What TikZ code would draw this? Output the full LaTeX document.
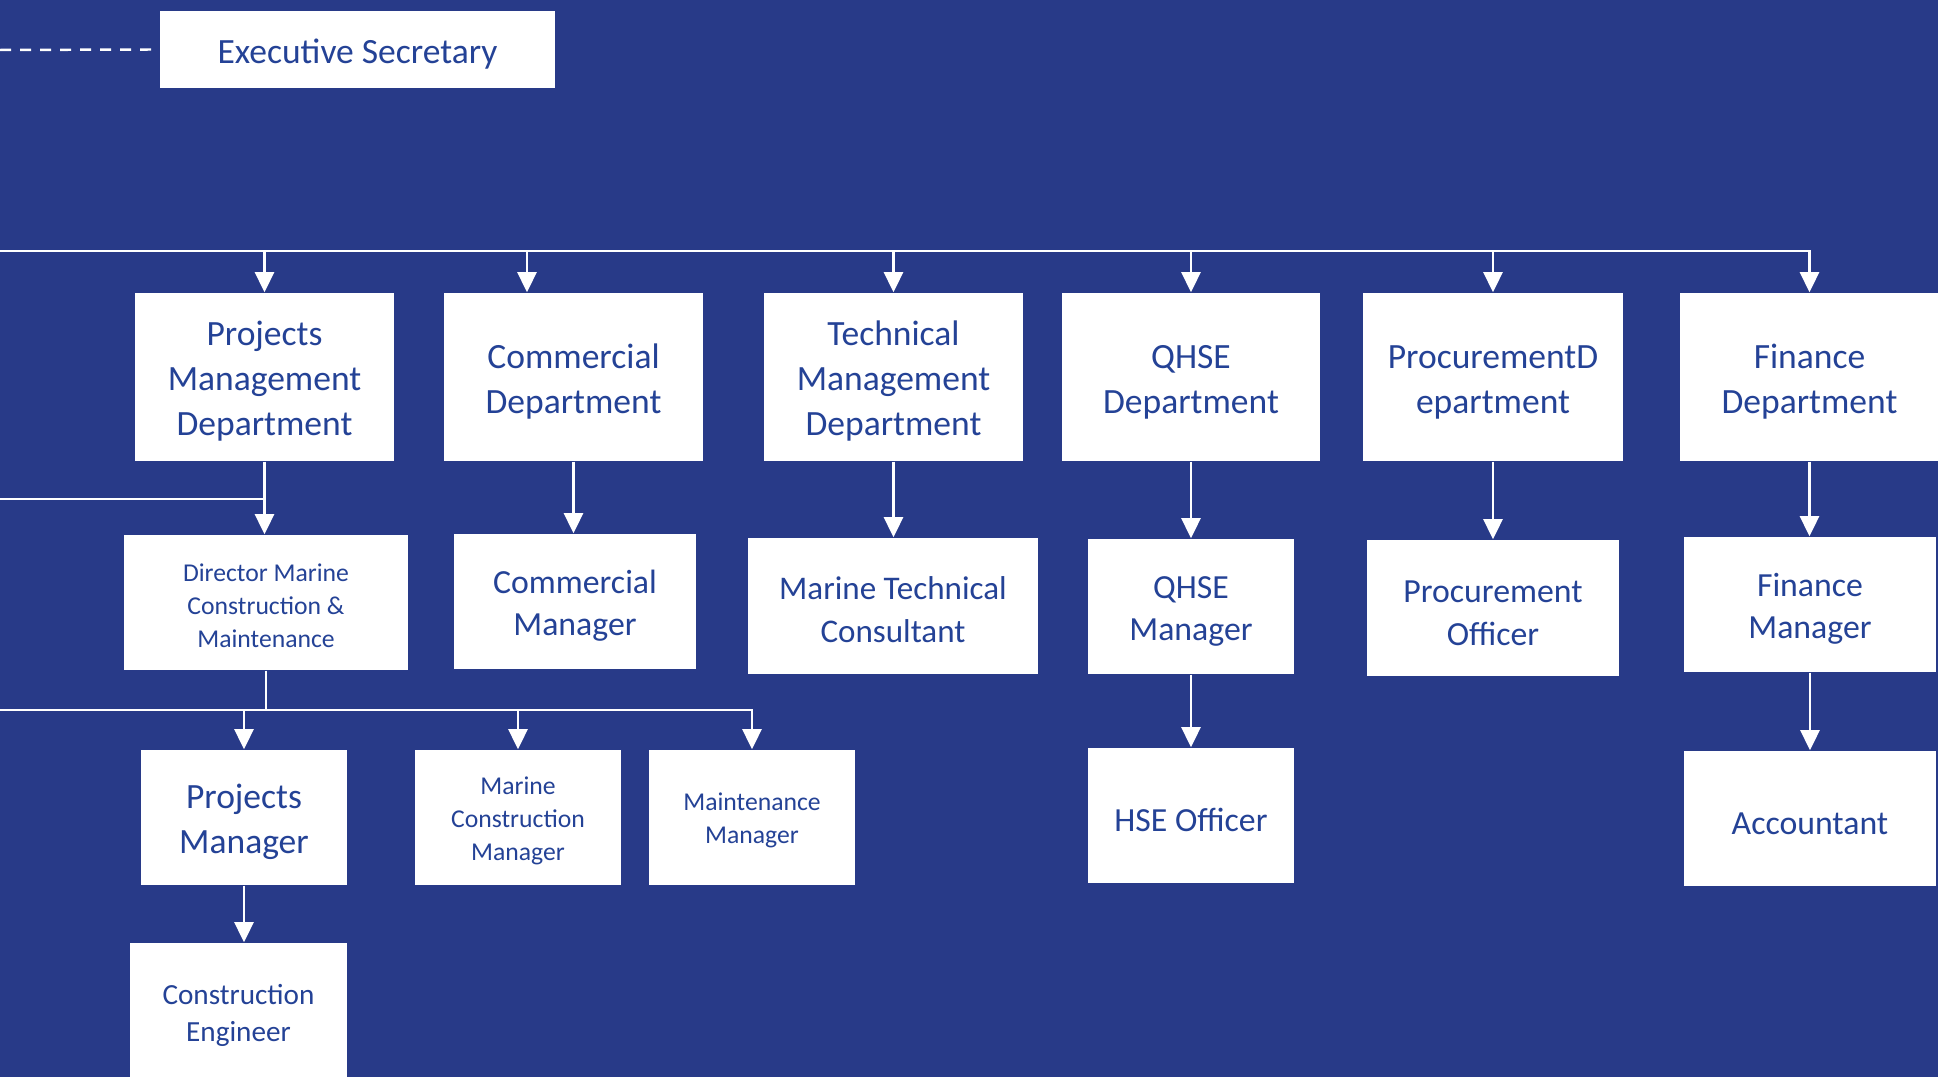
\documentclass[tikz,border=0pt]{standalone}
\usepackage{fontspec}
\setmainfont{Carlito}
\usetikzlibrary{arrows.meta}
\definecolor{bgblue}{RGB}{40,58,136}
\definecolor{txtblue}{RGB}{36,66,150}
\newcommand{\lift}{\rule{0pt}{0.94em}}
\tikzset{
	box/.style={fill=white, text=txtblue, align=center, inner sep=0pt},
	big/.style={font=\fontsize{10.1}{12.8}\selectfont},
	mid/.style={font=\fontsize{9.6}{12.2}\selectfont},
	small/.style={font=\fontsize{7.3}{9.3}\selectfont},
	conn/.style={draw=white, line width=0.7pt},
	arr/.style={conn, -{Triangle[width=0.19cm,length=0.2cm]}}
}

\begin{document}
\begin{tikzpicture}[x=0.01cm, y=-0.01cm]
			%%%%% START %%%%%
			
			\fill[bgblue] (0, 0) rectangle (1938, 1077);
			\useasboundingbox (0, 0) rectangle (1938, 1077);
			
			\node[box, big, minimum width=3.95cm, minimum height=0.77cm] (exsec) at (357.5, 49.5) {\lift Executive Secretary};
			
			% departments
			\node[box, big, minimum width=2.59cm, minimum height=1.68cm] (pmd) at (264.5, 377) {\lift Projects\\Management\\Department};
			\node[box, big, minimum width=2.59cm, minimum height=1.68cm] (comd) at (573.5, 377) {\lift Commercial\\Department};
			\node[box, big, minimum width=2.59cm, minimum height=1.68cm] (tmd) at (893.5, 377) {\lift Technical\\Management\\Department};
			\node[box, big, minimum width=2.58cm, minimum height=1.68cm] (qhsed) at (1191, 377) {\lift QHSE\\Department};
			\node[box, big, minimum width=2.60cm, minimum height=1.68cm] (prod) at (1493, 377) {\lift ProcurementD\\epartment};
			\node[box, big, minimum width=2.59cm, minimum height=1.68cm] (find) at (1809.5, 377) {\lift Finance\\Department};
			
			% managers
			\node[box, small, minimum width=2.84cm, minimum height=1.35cm] (dmcm) at (266, 602.5) {\lift Director Marine\\Construction \&\\Maintenance};
			\node[box, mid, minimum width=2.42cm, minimum height=1.35cm] (comm) at (575, 601.5) {\lift Commercial\\Manager};
			\node[box, font=\fontsize{9.4}{12.2}\selectfont, minimum width=2.90cm, minimum height=1.36cm] (mtc) at (893, 606) {\lift Marine Technical\\Consultant};
			\node[box, mid, minimum width=2.06cm, minimum height=1.35cm] (qhsem) at (1191, 606.5) {\lift QHSE\\Manager};
			\node[box, mid, minimum width=2.52cm, minimum height=1.36cm] (proo) at (1493, 608) {\lift Procurement\\Officer};
			\node[box, mid, minimum width=2.52cm, minimum height=1.35cm] (finm) at (1810, 604.5) {\lift Finance\\Manager};
			
			% third row
			\node[box, big, minimum width=2.06cm, minimum height=1.35cm] (pm) at (244, 817.5) {\lift Projects\\Manager};
			\node[box, small, minimum width=2.06cm, minimum height=1.35cm] (mcm) at (518, 817.5) {\lift Marine\\Construction\\Manager};
			\node[box, small, minimum width=2.06cm, minimum height=1.35cm] (mm) at (752, 817.5) {\lift Maintenance\\Manager};
			\node[box, mid, minimum width=2.06cm, minimum height=1.35cm] (hse) at (1191, 815.5) {\lift HSE Officer};
			\node[box, mid, minimum width=2.52cm, minimum height=1.35cm] (acc) at (1810, 818.5) {\lift Accountant};
			
			\node[box, font=\fontsize{8.3}{10.5}\selectfont, minimum width=2.17cm, minimum height=1.38cm] (ce) at (238.5, 1012) {\lift Construction\\Engineer};
			
			% free ends at the left edge
			\coordinate (dashL) at (0, 50);
			\coordinate (busL) at (0, 251);
			\coordinate (sideL) at (0, 499);
			\coordinate (lowL) at (0, 710);
			
			\draw[conn, dashed, dash pattern=on 0.11cm off 0.09cm] (dashL) -- (exsec.west);
			
			% top bus
			\draw[arr] (busL) -| (find.north);
			\draw[arr] (busL -| pmd.north) -- (pmd.north);
			\draw[arr] (busL -| 527, 0) -- (527, 0 |- comd.north);
			\draw[arr] (busL -| tmd.north) -- (tmd.north);
			\draw[arr] (busL -| qhsed.north) -- (qhsed.north);
			\draw[arr] (busL -| prod.north) -- (prod.north);
			
			% department to manager
			\draw[arr] (pmd.south) -- (pmd.south |- dmcm.north);
			\draw[conn] (sideL) -- (sideL -| pmd.south);
			\draw[arr] (comd.south) -- (comd.south |- comm.north);
			\draw[arr] (tmd.south) -- (tmd.south |- mtc.north);
			\draw[arr] (qhsed.south) -- (qhsed.south |- qhsem.north);
			\draw[arr] (prod.south) -- (prod.south |- proo.north);
			\draw[arr] (find.south) -- (find.south |- finm.north);
			
			% lower levels
			\draw[conn] (dmcm.south) -- (lowL -| dmcm.south);
			\draw[arr] (lowL) -| (mm.north);
			\draw[arr] (lowL -| pm.north) -- (pm.north);
			\draw[arr] (lowL -| mcm.north) -- (mcm.north);
			\draw[arr] (qhsem.south) -- (qhsem.south |- hse.north);
			\draw[arr] (finm.south) -- (finm.south |- acc.north);
			\draw[arr] (pm.south) -- (pm.south |- ce.north);
			
			%%%%% END %%%%%
		\end{tikzpicture}
\end{document}
